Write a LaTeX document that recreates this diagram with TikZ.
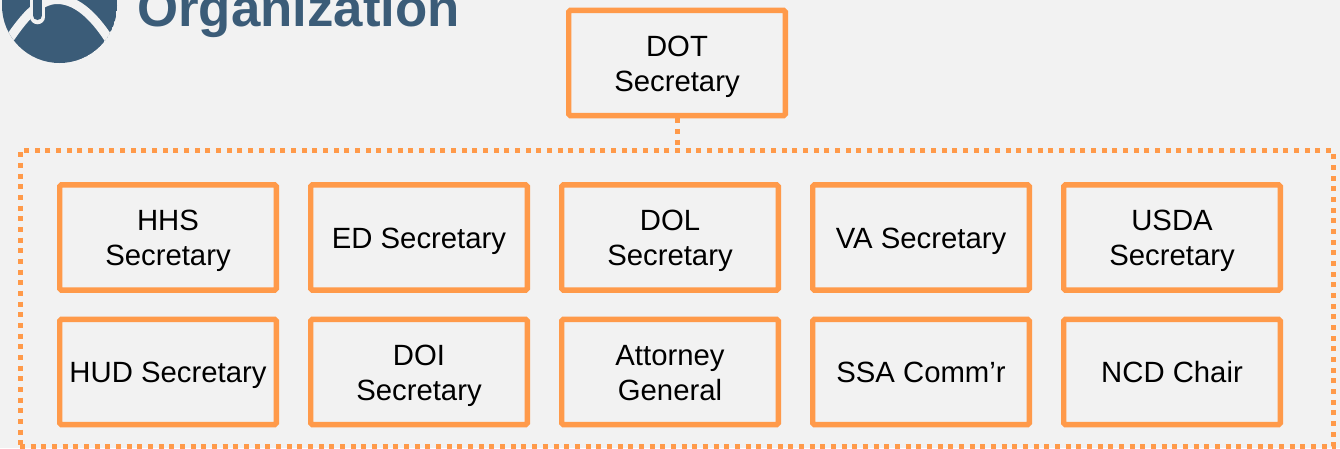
\documentclass[tikz,border=0pt]{standalone}
\usepackage{fontspec}
\setmainfont{Liberation Sans}
\definecolor{bgc}{HTML}{F2F2F2}
\definecolor{orng}{HTML}{FF9A4A}
\definecolor{navy}{HTML}{3B5C78}
\newcommand{\ls}{\rule[-6.6pt]{0pt}{35pt}}
\tikzset{
  x=1pt,y=-1pt,
  orgbox/.style={draw=orng,line width=5.4pt,rounded corners=1.5pt,minimum width=216.6pt,minimum height=105.2pt,inner sep=0pt,align=center,text=black,font=\fontsize{29.3}{35}\selectfont},
  groupbox/.style={draw=orng,line width=5pt,dash pattern=on 5pt off 5.67pt,minimum width=1313pt,minimum height=296pt,inner sep=0pt,outer sep=0pt},
  dotlink/.style={draw=orng,line width=5pt,dash pattern=on 5pt off 5.67pt},
  titletext/.style={text=navy,inner sep=0pt,anchor=base west,font=\fontsize{52.8}{60}\selectfont\bfseries},
  logoline/.style={draw=bgc,line width=9pt}
}
\begin{document}
\begin{tikzpicture}
\useasboundingbox (0,0) rectangle (1340,448);
\clip (0,0) rectangle (1340,448);
\fill[bgc] (0,0) rectangle (1340,448);
% logo
\begin{scope}
\clip (59.5,5.5) circle (57.5);
\fill[navy] (59.5,5.5) circle (57.5);
\draw[logoline] (6,44) .. controls (22,20) and (38,-1) .. (58,-0.5) .. controls (78,0) and (96,18) .. (112,44);
\end{scope}
\draw[bgc,line width=14.5pt,line cap=round] (37.5,-5) -- (37.5,17);
\draw[navy,line width=9pt,line cap=round] (37.5,-5) -- (37.5,15.5);
% title
\node[titletext] (title) at (137,26) {Organization};
% boxes
\node[orgbox] (dot) at (677,63) {\ls DOT\\\ls Secretary};
\node[groupbox] (grp) at (676.5,298.7) {};
\node[orgbox] (hhs) at (168,237.5) {\ls HHS\\\ls Secretary};
\node[orgbox] (ed) at (419,237.5) {\ls ED Secretary};
\node[orgbox] (dol) at (670,237.5) {\ls DOL\\\ls Secretary};
\node[orgbox] (va) at (921,237.5) {\ls VA Secretary};
\node[orgbox] (usda) at (1172,237.5) {\ls USDA\\\ls Secretary};
\node[orgbox] (hud) at (168,372) {\ls HUD Secretary};
\node[orgbox] (doi) at (419,372) {\ls DOI\\\ls Secretary};
\node[orgbox] (ag) at (670,372) {\ls Attorney\\\ls General};
\node[orgbox] (ssa) at (921,372) {\ls SSA Comm’r};
\node[orgbox] (ncd) at (1172,372) {\ls NCD Chair};
\draw[dotlink] (dot.south) -- (dot.south |- grp.north);
\end{tikzpicture}
\end{document}
